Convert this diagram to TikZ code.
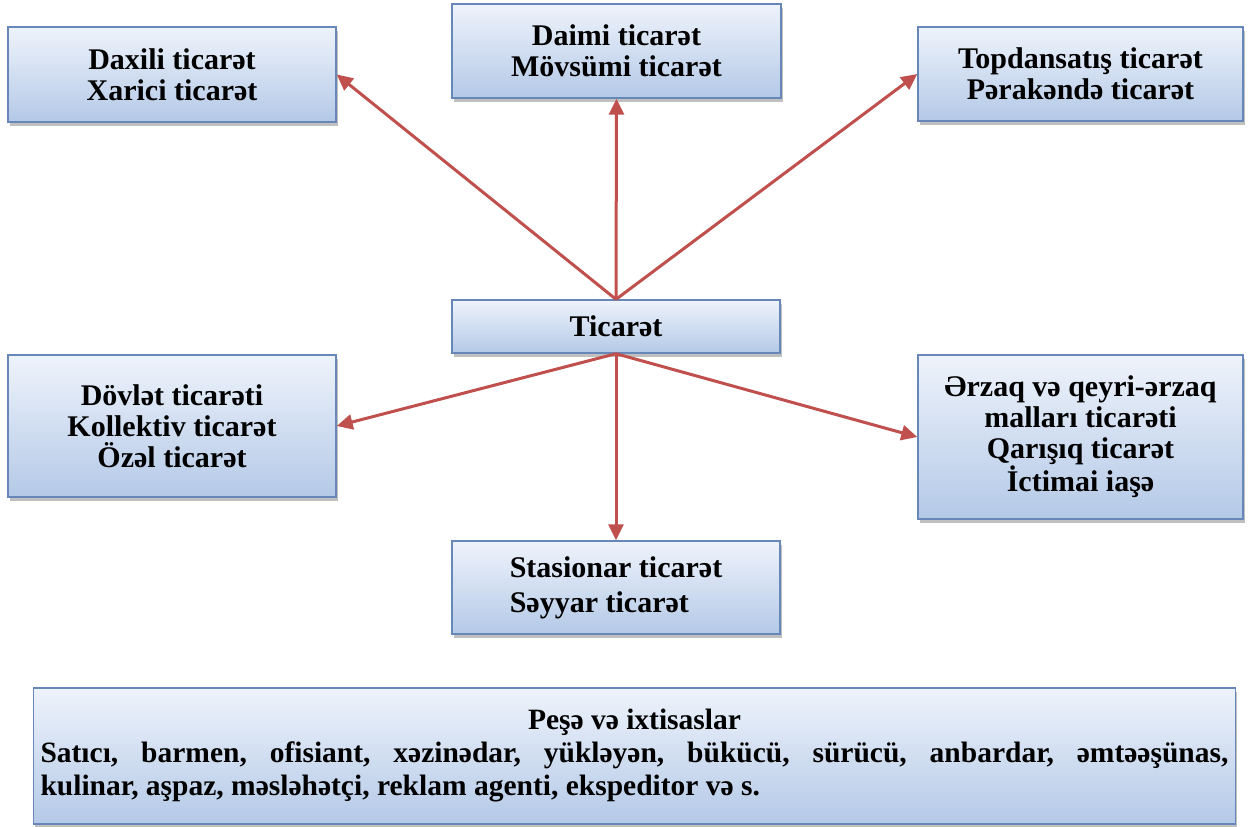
\documentclass[tikz,border=0pt]{standalone}
\usepackage{fontspec}
\setmainfont{Liberation Serif}
\usetikzlibrary{arrows.meta,shadows}
\definecolor{boxtop}{HTML}{EEF3FB}
\definecolor{boxbot}{HTML}{B4C9E7}
\definecolor{boxline}{HTML}{6787B8}
\definecolor{arrred}{HTML}{C0504D}
\tikzset{
  box/.style={draw=boxline, line width=1.4pt, top color=boxtop, bottom color=boxbot,
    drop shadow={shadow xshift=1.5pt, shadow yshift=-3.5pt, opacity=0.35, fill=black!70},
    font=\bfseries\fontsize{30}{31}\selectfont, align=center, inner sep=0pt},
  arr/.style={draw=arrred, line width=3pt, -{Triangle[length=16pt,width=15pt]}}
}
\begin{document}
\begin{tikzpicture}[x=1pt,y=-1pt]
\useasboundingbox[fill=white] (0,0) rectangle (1248,827);
\node[box, minimum width=328pt, minimum height=95pt] (b1) at (172,74.5) {Daxili ticarət\\Xarici ticarət};
\node[box, minimum width=329pt, minimum height=94pt] (b2) at (616.5,51) {Daimi ticarət\\Mövsümi ticarət};
\node[box, minimum width=325pt, minimum height=94pt] (b3) at (1080.5,74) {Topdansatış ticarət\\Pərakəndə ticarət};
\node[box, minimum width=328pt, minimum height=53pt] (tic) at (616,326.5) {Ticarət};
\node[box, minimum width=328pt, minimum height=142pt] (b4) at (172,426) {Dövlət ticarəti\\Kollektiv ticarət\\Özəl ticarət};
\node[box, minimum width=325pt, minimum height=164pt] (b5) at (1080.5,437) {Ərzaq və qeyri-ərzaq\\malları ticarəti\\Qarışıq ticarət\\İctimai iaşə};
\node[box, minimum width=328pt, minimum height=93pt, align=left, font=\bfseries\fontsize{30}{35}\selectfont] (b6) at (616,587.5) {Stasionar ticarət\\Səyyar ticarət};
\node[box, minimum width=1202pt, minimum height=136pt, font=\bfseries\fontsize{29.5}{33}\selectfont] (pe) at (634.5,756) {Peşə və ixtisaslar\\\makebox[1188pt][s]{Satıcı, barmen, ofisiant, xəzinədar, yükləyən, bükücü, sürücü, anbardar, əmtəəşünas,}\\\makebox[1188pt][l]{kulinar, aşpaz, məsləhətçi, reklam agenti, ekspeditor və s.}};
\draw[arr] (tic.north) -- (b1.east);
\draw[arr] (tic.north) -- (b2.south);
\draw[arr] (tic.north) -- (b3.west);
\draw[arr] (tic.south) -- (b4.east);
\draw[arr] (tic.south) -- (b5.west);
\draw[arr] (tic.south) -- (b6.north);
\end{tikzpicture}
\end{document}
